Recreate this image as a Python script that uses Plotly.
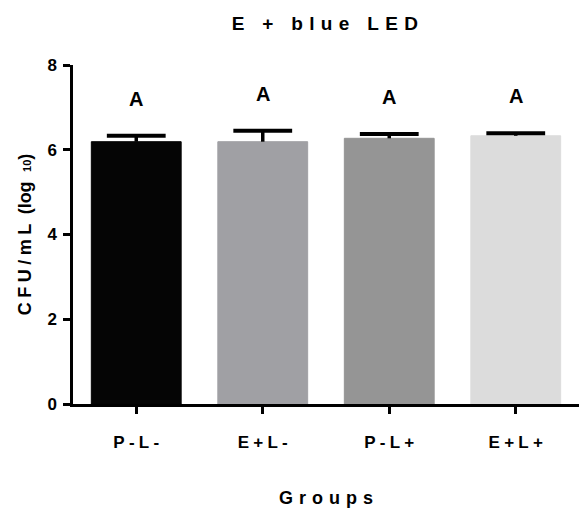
import plotly.graph_objects as go

groups = ["P-L-", "E+L-", "P-L+", "E+L+"]
means = [6.19, 6.19, 6.27, 6.33]
sds = [0.14, 0.26, 0.10, 0.06]
letters = ["A", "A", "A", "A"]
colors = ["#050505", "#a0a0a4", "#959595", "#dcdcdc"]
y_ticks = [0, 2, 4, 6, 8]

FONT = "Liberation Sans, Arial, sans-serif"
SP3 = "\u2004"  # three-per-em space
SP4 = "\u2005"  # four-per-em space


def spaced(s, sep):
    return sep.join(list(s))


fig = go.Figure()
fig.add_trace(go.Bar(
    x=groups,
    y=means,
    width=0.71,
    marker=dict(color=colors, line=dict(color=colors, width=1)),
    showlegend=False,
    hoverinfo="skip",
))

# upper-only error bars: stems + caps
tops = [m + s for m, s in zip(means, sds)]
fig.add_trace(go.Scatter(
    x=groups,
    y=tops,
    mode="markers",
    marker=dict(symbol="line-ew", size=42, color="#000000",
                line=dict(color="#000000", width=4)),
    error_y=dict(type="data", symmetric=False, array=[0] * len(sds), arrayminus=sds,
                 color="#000000", thickness=3.5, width=0),
    showlegend=False,
    hoverinfo="skip",
))

for g, t, l in zip(groups, tops, letters):
    fig.add_annotation(x=g, y=t, text="<b>%s</b>" % l, showarrow=False,
                       yanchor="bottom", yshift=24,
                       font=dict(family=FONT, size=20, color="#000000"))

fig.update_layout(
    width=579, height=508,
    margin=dict(l=73, r=0, t=65, b=104),
    paper_bgcolor="white", plot_bgcolor="white",
    title=dict(text="<b>%s</b>" % spaced("E + blue LED", SP3), x=0.561, xanchor="center",
               xref="container", y=0.955, yanchor="middle", yref="container",
               font=dict(family=FONT, size=19, color="#000000")),
    font=dict(family=FONT, color="#000000"),
)

fig.update_xaxes(
    range=[-0.5, 3.5], showline=True, linecolor="#000000", linewidth=2.5,
    ticks="outside", ticklen=7, tickwidth=2.5, tickcolor="#000000",
    tickvals=groups, ticktext=["<b>%s</b>" % spaced(g, SP4) for g in groups],
    tickfont=dict(family=FONT, size=17, color="#000000"),
    ticklabelstandoff=14,
    title=dict(text="<b>%s</b>" % spaced("Groups", SP3), standoff=42,
               font=dict(family=FONT, size=18, color="#000000")),
    showgrid=False, zeroline=False, automargin=False,
)

y_title = "<b>%s%s(log %s<span style=\"font-size:11px\">10</span>)</b>" % (
    spaced("CFU/mL", SP4), SP4 + " ", SP4)

fig.update_yaxes(
    range=[0, 8], showline=True, linecolor="#000000", linewidth=2.5,
    ticks="outside", ticklen=7, tickwidth=2.5, tickcolor="#000000",
    tickvals=y_ticks, ticktext=["<b>%d</b>" % v for v in y_ticks],
    tickfont=dict(family=FONT, size=17, color="#000000"),
    ticklabelstandoff=3,
    title=dict(text=y_title, standoff=12,
               font=dict(family=FONT, size=18, color="#000000")),
    showgrid=False, zeroline=False, automargin=False,
)

fig.write_html("out.html", config={"displayModeBar": False},
               post_script="document.body.style.margin='0';document.body.style.overflow='hidden';")
